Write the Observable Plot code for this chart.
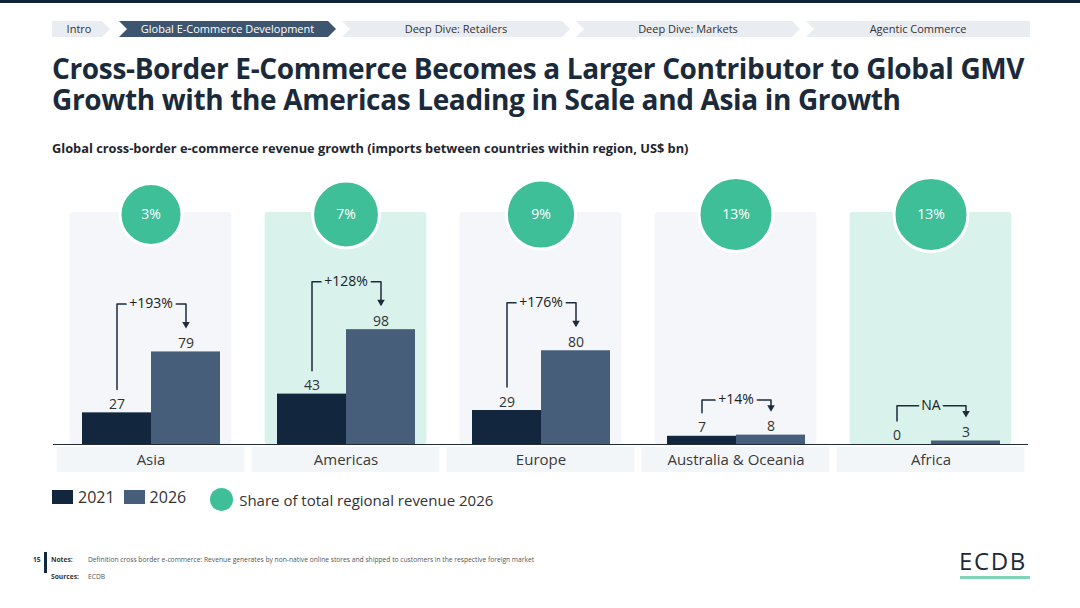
<!DOCTYPE html>
<html><head><meta charset="utf-8">
<script src="https://cdn.jsdelivr.net/npm/d3@7"></script>
<script src="https://cdn.jsdelivr.net/npm/@observablehq/plot@0.6"></script>
<style>
body{margin:0;width:1080px;height:608px;overflow:hidden;background:#fff;font-family:"Open Sans",sans-serif;position:relative;color:#333}
.abs{position:absolute}
#topbar{left:0;top:0;width:1080px;height:3px;background:#0f2436}
.title{left:52px;font-size:28px;line-height:31px;height:31px;font-weight:700;color:#1a2a3b;white-space:nowrap;letter-spacing:-0.35px}
#subtitle{left:52px;top:139px;font-size:12.8px;font-weight:700;color:#1e2630;white-space:nowrap}
#chart{left:0;top:168px}
#legend{left:52px;top:485px;font-size:16px;color:#333;display:flex;align-items:center;white-space:nowrap}
.sw{display:inline-block;width:21px;height:14px;margin-right:5px}
#footer{left:33px;top:552px;font-size:6.7px;color:#333}
#logo{left:959px;top:544px;font-size:24px;line-height:normal;font-weight:400;color:#1a2a3b;letter-spacing:1.6px;font-family:"Open Sans",sans-serif}
#logoline{left:960px;top:576px;width:70px;height:3px;background:#7fd4b8}
</style></head><body>
<div id="topbar" class="abs"></div>
<svg id="nav" class="abs" style="left:0;top:0" width="1080" height="45"></svg>
<div class="abs title" style="top:53px">Cross-Border E-Commerce Becomes a Larger Contributor to Global GMV</div>
<div class="abs title" style="top:84px">Growth with the Americas Leading in Scale and Asia in Growth</div>
<div id="subtitle" class="abs">Global cross-border e-commerce revenue growth (imports between countries within region, US$ bn)</div>
<div id="chart" class="abs"></div>
<div id="legend" class="abs"></div>
<div id="footer" class="abs"></div>
<div id="logo" class="abs">ECDB</div>
<div id="logoline" class="abs"></div>
<script>
// ---- data ----
const navItems = ["Intro", "Global E-Commerce Development", "Deep Dive: Retailers", "Deep Dive: Markets", "Agentic Commerce"];
const regions = ["Asia", "Americas", "Europe", "Australia & Oceania", "Africa"];
const years = ["2021", "2026"];
const revenue2021 = [27, 43, 29, 7, 0];
const revenue2026 = [79, 98, 80, 8, 3];
const growthLabels = ["+193%", "+128%", "+176%", "+14%", "NA"];
const share2026 = [3, 7, 9, 13, 13];
const shareLabels = ["3%", "7%", "9%", "13%", "13%"];
const highlightedPanels = [false, true, false, false, true];
const legendLabels = ["2021", "2026", "Share of total regional revenue 2026"];
const notesText = "Definition cross border e-commerce: Revenue generates by non-native online stores and shipped to customers in the respective foreign market";
const sourcesText = "ECDB";

// ---- styles ----
const yearColors = {"2021": "#12263e", "2026": "#475e7b"};
const panelMint = "#d9f2ec", panelGrey = "#f4f6f9", bandGrey = "#f3f6f9";
const green = "#3fbf98", ink = "#1e2b3a";

// ---- nav ----
(function(){
  const svg = d3.select("#nav");
  const spans = [[52,110],[119,336],[342,570],[576,800],[806,1030]];
  spans.forEach(([a,b],i)=>{
    const t=21,bt=37,m=29,p=8;
    const pts = i===0 ? [[a,t],[b-p,t],[b,m],[b-p,bt],[a,bt]]
              : i===4 ? [[a,t],[b,t],[b,bt],[a,bt],[a+p,m]]
              : [[a,t],[b-p,t],[b,m],[b-p,bt],[a,bt],[a+p,m]];
    svg.append("polygon").attr("points",pts.map(q=>q.join(",")).join(" "))
      .attr("fill", i===1 ? "#3e556f" : "#e9ecf1");
    svg.append("text").attr("x",(a+b)/2 + (i===0?-2:0)).attr("y",33)
      .attr("text-anchor","middle").attr("font-size",11).attr("font-family","Open Sans")
      .attr("fill", i===1 ? "#ffffff" : "#333").text(navItems[i]);
  });
})();

// ---- chart ----
const rows = regions.map((r,i)=>({region:r, v21:revenue2021[i], v26:revenue2026[i], growth:growthLabels[i], share:share2026[i], shareLabel:shareLabels[i], hl:highlightedPanels[i]}));
const barRows = rows.flatMap(d=>[{region:d.region, year:"2021", value:d.v21},{region:d.region, year:"2026", value:d.v26}]);
const bracketTop = d => { const m = Math.max(d.v21,d.v26); return m + (m > 20 ? 41 : 30); };
const bracketRows = rows.flatMap(d=>[
  {region:d.region, year:"2021", y:d.v21+20},
  {region:d.region, year:"2021", y:bracketTop(d)},
  {region:d.region, year:"2026", y:bracketTop(d)},
  {region:d.region, year:"2026", y:d.v26+22}
]);
const Y_MIN = -23.9, Y_MAX = 198;
const panelFill = d => d.hl ? panelMint : panelGrey;

const chart = Plot.plot({
  width: 1080, height: 304,
  marginLeft: 52, marginRight: 52, marginTop: 44, marginBottom: 0,
  style: {fontFamily: "Open Sans", background: "transparent"},
  fx: {domain: regions, padding: 0, axis: null},
  x: {domain: years, paddingInner: 0, paddingOuter: 0.4, axis: null},
  y: {domain: [Y_MIN, Y_MAX], axis: null},
  r: {type: "linear", domain: [3, 13], range: [31, 37]},
  color: {type: "identity"},
  marks: [
    Plot.barY(rows, {fx:"region", y1:0, y2:Y_MAX, insetLeft:16.6, insetRight:16.6, fill:panelFill, rx:3}),
    Plot.barY(rows, {fx:"region", y1:0, y2:Y_MIN, insetTop:3, insetLeft:3.6, insetRight:3.6, fill:bandGrey}),
    Plot.text(rows, {fx:"region", frameAnchor:"bottom", lineAnchor:"middle", dy:-12, text:"region", fontSize:15, fill:"#3a3a3a"}),
    Plot.barY(barRows, {fx:"region", x:"year", y:"value", fill:d=>yearColors[d.year]}),
    Plot.ruleY([0], {stroke: ink, strokeWidth: 1}),
    Plot.text(barRows, {fx:"region", x:"year", y:"value", text:d=>String(d.value), lineAnchor:"bottom", dy:-4, fontSize:14, fill:"#333"}),
    Plot.line(bracketRows, {fx:"region", x:"year", y:"y", z:"region", stroke: ink, strokeWidth:1.5}),
    Plot.dot(rows, {fx:"region", x:()=> "2026", y:d=>d.v26+22, symbol:"triangle2", rotate:180, r:3.6, fill: ink, dy:-2}),
    Plot.text(rows, {fx:"region", y:bracketTop, text:"growth", frameAnchor:"middle", fontSize:14, fill:"#222", stroke:panelFill, strokeWidth:7}),
    Plot.dot(rows, {fx:"region", frameAnchor:"top", r:"share", fill:green, stroke:"#fff", strokeWidth:3, dy:2}),
    Plot.text(rows, {fx:"region", frameAnchor:"top", lineAnchor:"middle", text:"shareLabel", fill:"#fff", fontSize:14, dy:2})
  ]
});
document.getElementById("chart").appendChild(chart);

// ---- legend ----
const lg = document.getElementById("legend");
lg.innerHTML = `<span class="sw" style="background:${yearColors["2021"]}"></span><span style="margin-right:9px">${legendLabels[0]}</span>`+
  `<span class="sw" style="background:${yearColors["2026"]}"></span><span style="margin-right:24px">${legendLabels[1]}</span>`+
  `<span style="display:inline-block;width:23px;height:23px;border-radius:50%;background:${green};margin-right:6px;position:relative;top:3px"></span><span style="position:relative;top:3px;font-size:15px">${legendLabels[2]}</span>`;

// ---- footer ----
document.getElementById("footer").innerHTML =
  `<div style="position:absolute;left:0;top:3px;font-weight:700">15</div>`+
  `<div style="position:absolute;left:11px;top:0;width:3px;height:21px;background:#12263e"></div>`+
  `<div style="position:absolute;left:18px;top:3px;font-weight:700;white-space:nowrap">Notes:</div>`+
  `<div style="position:absolute;left:55px;top:3px;white-space:nowrap;color:#555">${notesText}</div>`+
  `<div style="position:absolute;left:18px;top:20px;font-weight:700;white-space:nowrap">Sources:</div>`+
  `<div style="position:absolute;left:55px;top:20px;white-space:nowrap;color:#555">${sourcesText}</div>`;
</script>
</body></html>
